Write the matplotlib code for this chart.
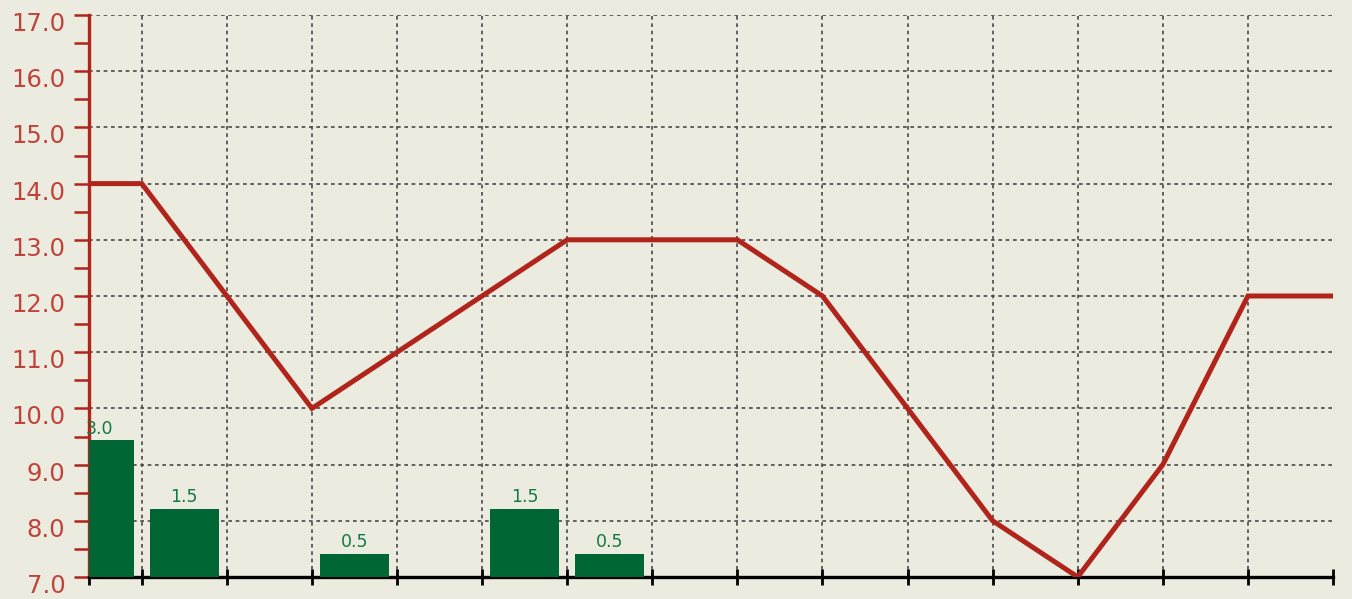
import matplotlib.pyplot as plt
import matplotlib.transforms as mtransforms

# line series, one value per grid position (position -1 is cut off by the left edge)
line_x = [-1, 0, 1, 2, 3, 4, 5, 6, 7, 8, 9, 10, 11, 12, 13, 14]
line_y = [14, 14, 12, 10, 11, 12, 13, 13, 13, 12, 10, 8, 7, 9, 12, 12]

# bars sit in the middle of the grid cells
bar_x = [-0.5, 0.5, 2.5, 4.5, 5.5]
bar_v = [3.0, 1.5, 0.5, 1.5, 0.5]

y_ticks = [7, 8, 9, 10, 11, 12, 13, 14, 15, 16, 17]

BG = '#ecebdf'
RED = '#b0241c'
LABEL_RED = '#c0433b'
GREEN = '#006633'

fig = plt.figure(figsize=(13.52, 5.99), dpi=100, facecolor=BG)
ax = fig.add_axes([89 / 1352, 1 - 577 / 599, (1333 - 89) / 1352, (577 - 15) / 599])
ax.set_facecolor(BG)

ax.set_xlim(-0.62, 14)
ax.set_ylim(7, 17)

ax.set_yticks(y_ticks)
ax.set_yticklabels([f'{v:.1f}' for v in y_ticks])
ax.set_yticks([v + 0.5 for v in y_ticks[:-1]], minor=True)
ax.tick_params(axis='y', which='both', colors=RED, length=11, width=1.8,
               labelsize=17.5, labelcolor=LABEL_RED, pad=6)
# labels hang just under their tick
shift = mtransforms.ScaledTranslation(0, 3 / 100, fig.dpi_scale_trans)
for lab in ax.get_yticklabels():
    lab.set_va('top')
    lab.set_transform(lab.get_transform() + shift)

ax.set_xticks(range(0, 14))
ax.set_xticks([-0.62, 14], minor=True)
ax.tick_params(axis='x', which='both', direction='inout', length=11, width=2,
               colors='black', labelbottom=False)

ax.grid(True, which='major', color='#4a4a4a', linestyle=(0, (2.2, 2.2)), linewidth=1.2)

for s in ['top', 'right']:
    ax.spines[s].set_visible(False)
ax.spines['left'].set_color(RED)
ax.spines['left'].set_linewidth(2.4)
ax.spines['bottom'].set_color('black')
ax.spines['bottom'].set_linewidth(2.4)

# bars on their own scale, drawn in front of the grid
axb = ax.twinx()
axb.set_ylim(0, 12.35)
axb.set_xlim(ax.get_xlim())
axb.axis('off')
bars = axb.bar(bar_x, bar_v, width=0.81, color=GREEN, zorder=2)
axb.bar_label(bars, fmt='%.1f', color='#137a42', fontsize=12.5, padding=2)

# line uses the left axis scale but sits above the bars
axb.plot(line_x, line_y, color=RED, linewidth=3.6, transform=ax.transData,
         solid_joinstyle='miter', zorder=3)
axb.set_xlim(ax.get_xlim())
axb.set_ylim(0, 12.35)

fig.savefig('out.png', dpi=100, facecolor=BG)
